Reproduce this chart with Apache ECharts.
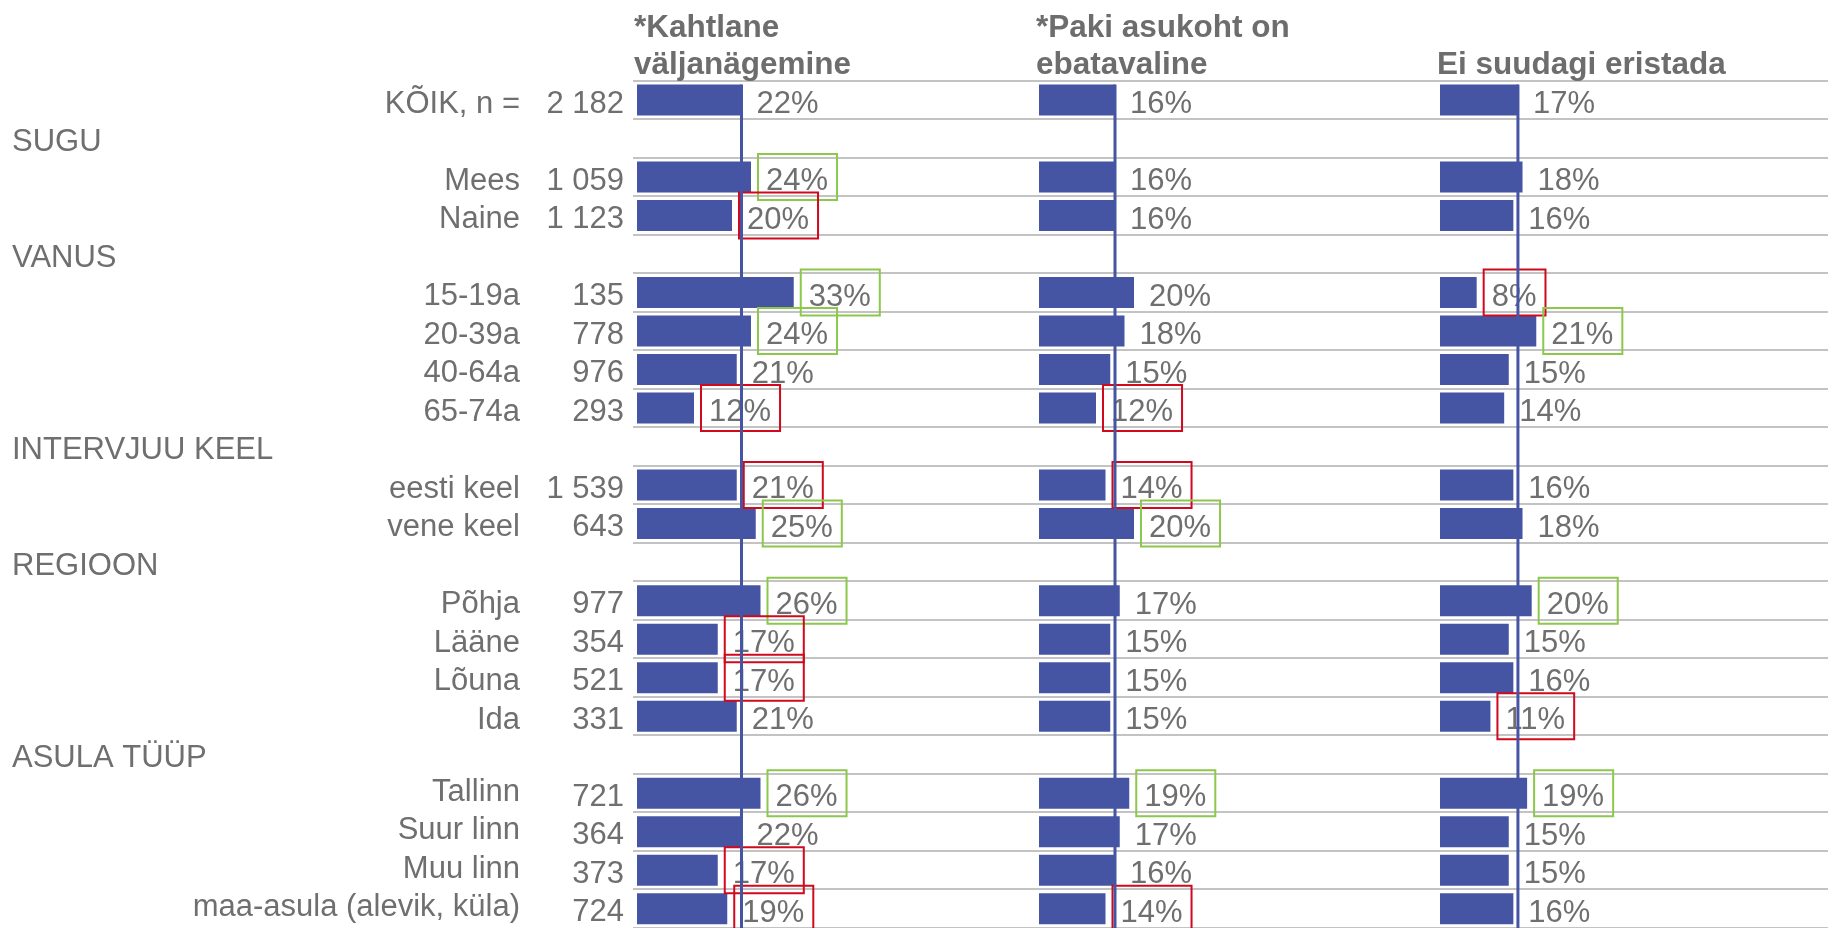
<!DOCTYPE html>
<html>
<head>
<meta charset="utf-8">
<title>Pakkumise äratundmine</title>
<style>
  html, body { margin: 0; padding: 0; background: #fff; }
  #chart { width: 1828px; height: 928px; }
</style>
<script src="https://cdn.jsdelivr.net/npm/echarts/dist/echarts.min.js"></script>
</head>
<body>
<div id="chart"></div>
<script>
// read
var categories = ['KÕIK, n =', 'SUGU', 'Mees', 'Naine', 'VANUS', '15-19a', '20-39a', '40-64a', '65-74a',
    'INTERVJUU KEEL', 'eesti keel', 'vene keel', 'REGIOON', 'Põhja', 'Lääne', 'Lõuna', 'Ida',
    'ASULA TÜÜP', 'Tallinn', 'Suur linn', 'Muu linn', 'maa-asula (alevik, küla)'];
var groups = ['SUGU', 'VANUS', 'INTERVJUU KEEL', 'REGIOON', 'ASULA TÜÜP'];
var nValues = ['2 182', '', '1 059', '1 123', '', '135', '778', '976', '293', '', '1 539', '643', '',
    '977', '354', '521', '331', '', '721', '364', '373', '724'];
var titles = ['*Kahtlane\nväljanägemine', '*Paki asukoht on\nebatavaline', 'Ei suudagi eristada'];

// %-d, '+' = oluliselt kõrgem, '-' = oluliselt madalam
var kahtlane    = [22, null, 24, 20, null, 33, 24, 21, 12, null, 21, 25, null, 26, 17, 17, 21, null, 26, 22, 17, 19];
var kahtlaneSig = ['', '', '+', '-', '', '+', '+', '', '-', '', '-', '+', '', '+', '-', '-', '', '', '+', '', '-', '-'];
var asukoht     = [16, null, 16, 16, null, 20, 18, 15, 12, null, 14, 20, null, 17, 15, 15, 15, null, 19, 17, 16, 14];
var asukohtSig  = ['', '', '', '', '', '', '', '', '-', '', '-', '+', '', '', '', '', '', '', '+', '', '', '-'];
var eristada    = [17, null, 18, 16, null, 8, 21, 15, 14, null, 16, 18, null, 20, 15, 16, 11, null, 19, 15, 15, 16];
var eristadaSig = ['', '', '', '', '', '-', '+', '', '', '', '', '', '', '+', '', '', '-', '', '+', '', '', ''];

var panels = [
    { values: kahtlane, sig: kahtlaneSig },
    { values: asukoht, sig: asukohtSig },
    { values: eristada, sig: eristadaSig }
];

var font = 'Liberation Sans, Arial, sans-serif';
var fs = 31;
var blue = '#4654a4';
var textGray = '#6f6f6f';
var rowTop = 80.7;
var rowH = 38.73;
var gridH = rowH * categories.length;
var panelLeft = [637, 1039, 1440];
var panelW = 402;
var pxPerPct = 4.75;
var barW = 31;
var asulaStart = categories.indexOf('ASULA TÜÜP');

function barData(values, sig) {
    return values.map(function (v, i) {
        if (v == null) return '-';
        var item = { value: v };
        if (sig[i]) {
            item.label = { borderColor: sig[i] === '+' ? '#8cc84b' : '#d0091d', borderWidth: 2 };
        }
        return item;
    });
}

// rich-tekst, et padding nihutaks ka teksti
var plain = { fontSize: fs, color: textGray, fontFamily: font };

var myChart = echarts.init(document.getElementById('chart'));

var grid = [{ left: 633, top: rowTop, width: 1828 - 633, height: gridH }];
var xAxis = [{ gridIndex: 0, type: 'value', min: 0, max: 1, show: false }];
var yAxis = [
    // nimed + horisontaalsed jooned
    {
        gridIndex: 0, type: 'category', inverse: true, position: 'left', data: categories,
        axisLine: { show: false }, axisTick: { show: false },
        splitLine: { show: true, interval: 0, lineStyle: { color: '#c3c3c3', width: 2 } },
        axisLabel: {
            interval: 0, margin: 113, fontSize: fs, color: textGray, fontFamily: font,
            padding: [9, 0, 0, 0],
            rich: { p: plain, up: { fontSize: fs, color: textGray, fontFamily: font, padding: [0, 0, 10, 0] } },
            formatter: function (v, i) {
                if (groups.indexOf(v) >= 0) return '';
                return i > asulaStart ? '{up|' + v + '}' : v;
            }
        }
    },
    // rühmade pealkirjad
    {
        gridIndex: 0, type: 'category', inverse: true, position: 'left', data: categories,
        axisLine: { show: false }, axisTick: { show: false }, splitLine: { show: false },
        axisLabel: {
            interval: 0, margin: 621, align: 'left', fontSize: fs, color: textGray, fontFamily: font,
            padding: [9, 0, 0, 0],
            rich: { p: plain },
            formatter: function (v) { return groups.indexOf(v) >= 0 ? v : ''; }
        }
    },
    // n
    {
        gridIndex: 0, type: 'category', inverse: true, position: 'left', data: categories,
        axisLine: { show: false }, axisTick: { show: false }, splitLine: { show: false },
        axisLabel: {
            interval: 0, margin: 9, fontSize: fs, color: textGray, fontFamily: font,
            padding: [9, 0, 0, 0],
            rich: { p: plain },
            formatter: function (v, i) { return nValues[i]; }
        }
    }
];

var series = [];
var title = [];

panels.forEach(function (p, k) {
    var gi = k + 1;
    grid.push({ left: panelLeft[k], top: rowTop, width: panelW, height: gridH });
    xAxis.push({ gridIndex: gi, type: 'value', min: 0, max: panelW / pxPerPct, show: false });
    yAxis.push({ gridIndex: gi, type: 'category', inverse: true, data: categories, show: false });

    title.push({
        text: titles[k],
        left: panelLeft[k] - 3,
        top: k === 2 ? 9.5 + 37.5 : 9.5,
        padding: 0,
        textStyle: { fontSize: 31.5, fontWeight: 'bold', color: '#6d6d6d', fontFamily: font, lineHeight: 37.5 }
    });

    series.push({
        type: 'bar',
        xAxisIndex: gi,
        yAxisIndex: gi + 2,
        barWidth: barW,
        itemStyle: { color: blue },
        label: {
            show: true,
            position: 'right',
            distance: 7,
            formatter: '{c}%',
            fontSize: fs,
            fontFamily: font,
            color: textGray,
            lineHeight: 37,
            padding: [9, 9, 0, 8],
            rich: { p: plain }
        },
        data: barData(p.values, p.sig)
    });

    // KÕIK väärtuse joon
    series.push({
        type: 'custom',
        xAxisIndex: gi,
        yAxisIndex: gi + 2,
        silent: true,
        z: 5,
        data: [[p.values[0], 0]],
        renderItem: function (params, api) {
            var pt = api.coord([api.value(0), api.value(1)]);
            return {
                type: 'line',
                shape: {
                    x1: pt[0], y1: pt[1] - barW / 2,
                    x2: pt[0], y2: params.coordSys.y + params.coordSys.height
                },
                style: { stroke: blue, lineWidth: 3 }
            };
        }
    });
});

var option = {
    animation: false,
    title: title,
    grid: grid,
    xAxis: xAxis,
    yAxis: yAxis,
    series: series
};

myChart.setOption(option);
</script>
</body>
</html>
